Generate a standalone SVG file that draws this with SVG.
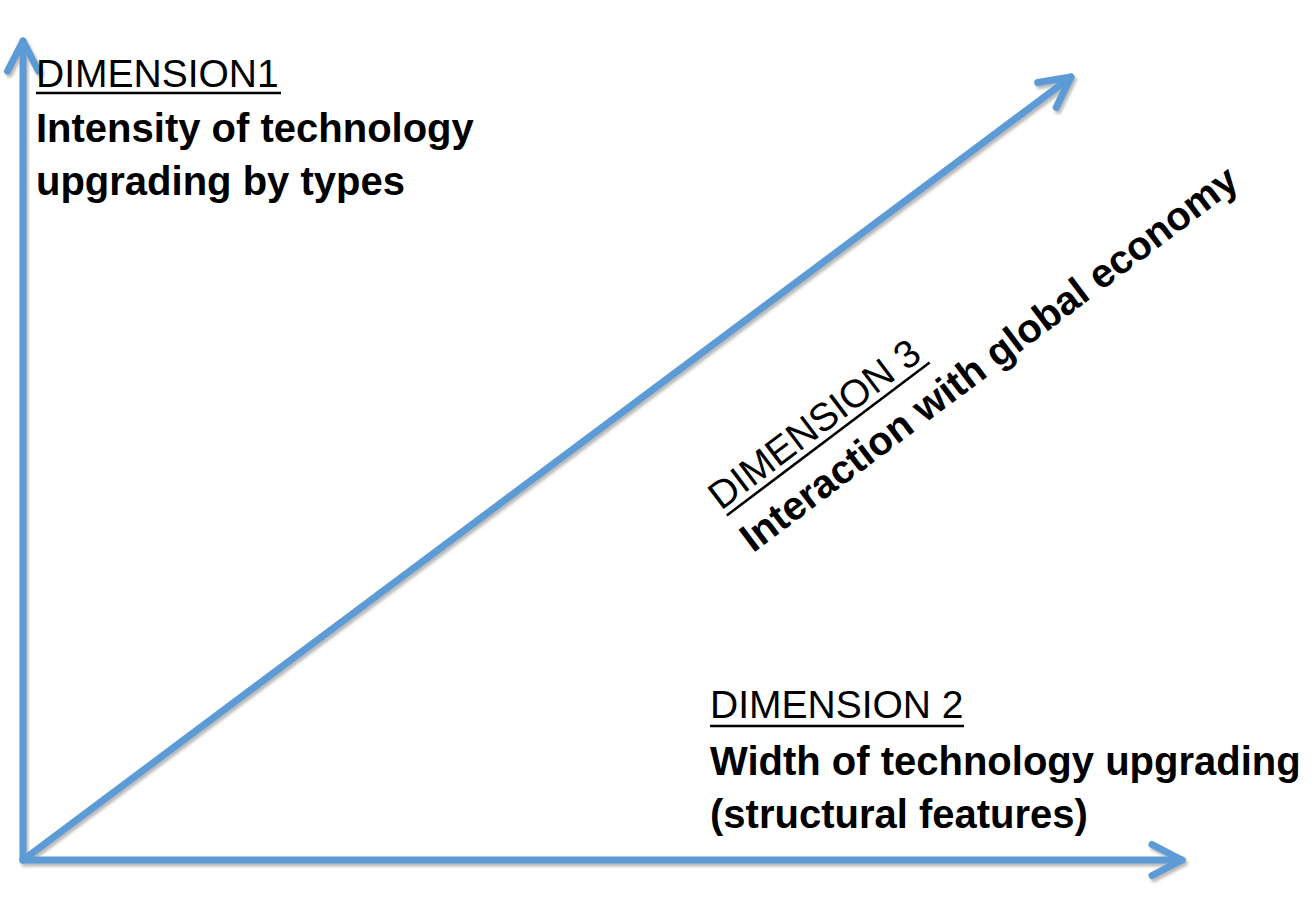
<svg xmlns="http://www.w3.org/2000/svg" width="1311" height="918" viewBox="0 0 1311 918">
  <defs>
    <style>
      .axis { fill: none; stroke: #5B9BD5; stroke-width: 7; stroke-linecap: round; stroke-linejoin: round; }
      .head { fill: none; stroke: #5B9BD5; stroke-width: 7; stroke-linecap: round; stroke-linejoin: round; }
      .dim { font-family: "Liberation Sans", Arial, sans-serif; font-size: 39px; fill: #000; }
      .lbl { font-family: "Liberation Sans", Arial, sans-serif; font-size: 40px; font-weight: bold; fill: #000; }
      .ul { stroke: #000; stroke-width: 2.5; }
    </style>
    <filter id="shadow" x="-5%" y="-5%" width="110%" height="110%">
      <feDropShadow dx="2" dy="3" stdDeviation="1.5" flood-color="#808080" flood-opacity="0.55"/>
    </filter>
    <marker id="chev" markerUnits="userSpaceOnUse" viewBox="-40 -24 48 48" refX="0" refY="0" markerWidth="48" markerHeight="48" orient="auto" overflow="visible">
      <path class="head" d="M -30 -15.5 L 0 0 L -30 15.5"/>
    </marker>
  </defs>
  <rect width="1311" height="918" fill="#fff"/>

  <g id="connectors" filter="url(#shadow)">
    <line id="axis-dim1" class="axis" x1="23" y1="860" x2="23" y2="41" marker-end="url(#chev)"/>
    <line id="axis-dim2" class="axis" x1="23" y1="860" x2="1182" y2="860" marker-end="url(#chev)"/>
    <line id="axis-dim3" class="axis" x1="23" y1="860" x2="1071" y2="77" marker-end="url(#chev)"/>
  </g>

  <g id="dimension1">
    <text class="dim" x="36" y="87">DIMENSION1</text>
    <line class="ul" x1="36" y1="93" x2="281" y2="93"/>
    <text class="lbl" x="36" y="142">Intensity of technology</text>
    <text class="lbl" x="36" y="195">upgrading by types</text>
  </g>

  <g id="dimension2">
    <text class="dim" x="710" y="718">DIMENSION 2</text>
    <line class="ul" x1="710" y1="726" x2="964" y2="726"/>
    <text class="lbl" x="710" y="775">Width of technology upgrading</text>
    <text class="lbl" x="710" y="828">(structural features)</text>
  </g>

  <g id="dimension3" transform="translate(721,511) rotate(-37)">
    <text class="dim" x="0" y="0">DIMENSION 3</text>
    <line class="ul" x1="2" y1="7" x2="256" y2="7"/>
    <text class="lbl" x="0" y="53">Interaction with global economy</text>
  </g>
</svg>
